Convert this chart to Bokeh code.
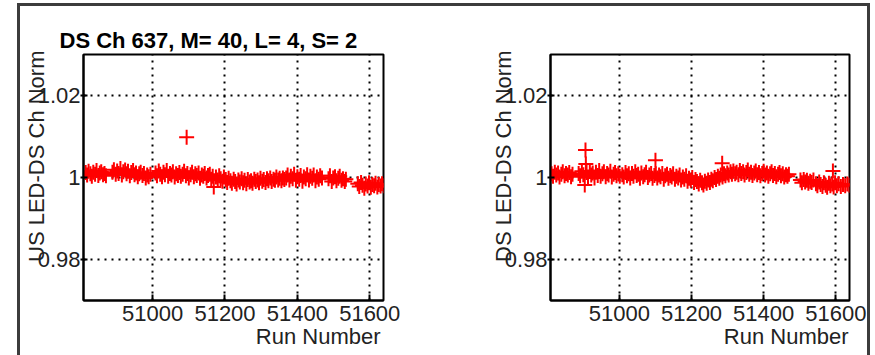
from bokeh.plotting import figure
from bokeh.layouts import row
from bokeh.models import Range1d, FixedTicker, Title
from bokeh.embed import file_html
from bokeh.resources import INLINE

# ---------------- data ----------------
title_text = "DS Ch 637, M= 40, L= 4, S= 2"
x_label = "Run Number"
y_label_left = "US LED-DS Ch Norm"
y_label_right = "DS LED-DS Ch Norm"

x_limits = (50809, 51638)
y_limits = (0.97, 1.03)
x_ticks = [51000, 51200, 51400, 51600]
x_tick_labels = ["51000", "51200", "51400", "51600"]
y_ticks = [0.98, 1.0, 1.02]
y_tick_labels = ["0.98", "1", "1.02"]

left_runs = [
    50815, 50819, 50823, 50828, 50832, 50836, 50841, 50845, 50850, 50854,
    50858, 50863, 50867, 50871, 50889, 50893, 50898, 50902, 50906, 50911,
    50915, 50919, 50924, 50928, 50932, 50937, 50941, 50946, 50950, 50954,
    50959, 50963, 50967, 50972, 50976, 50981, 50985, 50989, 50994, 51008,
    51012, 51017, 51021, 51026, 51030, 51034, 51039, 51043, 51048, 51052,
    51056, 51061, 51065, 51070, 51074, 51078, 51083, 51087, 51092, 51094,
    51096, 51100, 51105, 51109, 51114, 51118, 51122, 51127, 51131, 51136,
    51140, 51144, 51149, 51153, 51158, 51162, 51166, 51169, 51175, 51180,
    51184, 51188, 51193, 51197, 51202, 51206, 51210, 51215, 51219, 51224,
    51228, 51232, 51237, 51241, 51246, 51250, 51254, 51259, 51263, 51268,
    51272, 51276, 51281, 51285, 51290, 51294, 51298, 51303, 51307, 51312,
    51316, 51320, 51325, 51329, 51334, 51338, 51342, 51347, 51351, 51356,
    51360, 51364, 51369, 51373, 51378, 51382, 51387, 51391, 51396, 51400,
    51405, 51409, 51414, 51418, 51423, 51427, 51432, 51436, 51441, 51445,
    51450, 51454, 51459, 51463, 51468, 51486, 51490, 51495, 51499, 51504,
    51508, 51513, 51517, 51522, 51526, 51531, 51534, 51567, 51571, 51576,
    51580, 51585, 51589, 51594, 51598, 51603, 51607, 51612, 51616, 51621,
    51625, 51630, 51634, 51639,
]
left_vals = [
    1.0012, 1.0006, 1.0015, 1.0009, 1.0003, 1.0013, 1.0008, 1.0017, 1.0005, 1.0011,
    1.0014, 1.0007, 1.0010, 1.0004, 1.0013, 1.0019, 1.0008, 1.0016, 1.0010, 1.0022,
    1.0006, 1.0014, 1.0018, 1.0009, 1.0015, 1.0004, 1.0012, 1.0017, 1.0007, 1.0011,
    1.0002, 1.0009, 1.0013, 1.0005, 1.0010, 0.9999, 1.0006, 1.0002, 1.0008, 1.0011,
    1.0004, 1.0016, 1.0008, 1.0002, 1.0013, 1.0007, 1.0017, 1.0003, 1.0010, 1.0006,
    1.0014, 1.0001, 1.0009, 1.0005, 1.0012, 1.0003, 1.0008, 1.0015, 1.0004, 1.0098,
    1.0010, 0.9999, 1.0007, 1.0013, 1.0002, 1.0009, 1.0005, 1.0011, 0.9998, 1.0006,
    1.0003, 1.0010, 0.9999, 1.0005, 1.0008, 0.9996, 1.0003, 0.9977, 1.0001, 0.9994,
    1.0004, 0.9997, 0.9991, 1.0001, 0.9995, 0.9988, 0.9998, 0.9992, 0.9986, 0.9996,
    0.9990, 0.9984, 0.9994, 0.9989, 0.9997, 0.9987, 0.9993, 0.9985, 0.9995, 0.9989,
    0.9992, 0.9986, 0.9996, 0.9990, 0.9994, 0.9987, 0.9998, 0.9991, 0.9995, 0.9988,
    0.9997, 0.9992, 0.9999, 0.9990, 0.9996, 0.9993, 1.0001, 0.9994, 0.9998, 0.9992,
    0.9999, 0.9995, 0.9999, 1.0006, 0.9994, 1.0003, 0.9997, 1.0008, 0.9993, 1.0002,
    0.9996, 1.0005, 0.9991, 1.0001, 0.9997, 1.0007, 0.9994, 1.0003, 0.9998, 1.0006,
    0.9992, 1.0001, 0.9996, 1.0004, 0.9999, 0.9997, 1.0004, 0.9990, 0.9999, 1.0002,
    0.9992, 0.9998, 1.0003, 0.9993, 0.9997, 0.9990, 0.9996, 0.9985, 0.9978, 0.9988,
    0.9981, 0.9974, 0.9984, 0.9979, 0.9987, 0.9976, 0.9983, 0.9980, 0.9986, 0.9977,
    0.9983, 0.9979, 0.9985, 0.9980,
]

right_runs = [
    50812, 50816, 50821, 50825, 50830, 50834, 50839, 50843, 50848, 50852,
    50857, 50861, 50866, 50870, 50887, 50891, 50896, 50900, 50904, 50906,
    50907, 50909, 50913, 50918, 50922, 50926, 50931, 50935, 50940, 50944,
    50948, 50953, 50957, 50962, 50966, 50970, 50975, 50979, 50984, 50988,
    50992, 50997, 51001, 51008, 51012, 51017, 51021, 51026, 51030, 51035,
    51039, 51044, 51048, 51052, 51057, 51061, 51066, 51070, 51074, 51079,
    51083, 51088, 51092, 51097, 51100, 51101, 51105, 51110, 51114, 51119,
    51123, 51127, 51132, 51136, 51141, 51145, 51149, 51154, 51158, 51163,
    51167, 51171, 51176, 51180, 51185, 51189, 51193, 51198, 51202, 51207,
    51211, 51215, 51220, 51224, 51229, 51233, 51237, 51242, 51246, 51251,
    51255, 51259, 51264, 51268, 51273, 51277, 51281, 51285, 51286, 51290,
    51294, 51299, 51303, 51308, 51312, 51316, 51321, 51325, 51330, 51334,
    51338, 51343, 51347, 51352, 51356, 51360, 51365, 51369, 51374, 51378,
    51382, 51387, 51391, 51396, 51400, 51404, 51409, 51413, 51418, 51422,
    51426, 51431, 51435, 51440, 51444, 51448, 51453, 51457, 51462, 51466,
    51470, 51502, 51506, 51511, 51515, 51520, 51524, 51529, 51533, 51538,
    51545, 51549, 51554, 51558, 51563, 51567, 51572, 51576, 51581, 51585,
    51590, 51592, 51594, 51598, 51603, 51608, 51614, 51620, 51626, 51632,
    51638,
]
right_vals = [
    1.0009, 1.0003, 1.0013, 1.0006, 1.0011, 1.0001, 1.0008, 1.0014, 1.0004, 1.0010,
    1.0006, 1.0012, 1.0002, 1.0008, 1.0010, 1.0004, 1.0015, 1.0007, 0.9982, 1.0067,
    1.0033, 1.0012, 1.0001, 1.0016, 1.0006, 1.0011, 0.9999, 1.0013, 1.0005, 1.0017,
    1.0003, 1.0009, 1.0014, 1.0002, 1.0010, 1.0006, 1.0015, 1.0001, 1.0008, 1.0012,
    1.0004, 1.0009, 1.0003, 1.0007, 1.0001, 1.0012, 1.0004, 1.0009, 0.9999, 1.0010,
    1.0003, 1.0014, 1.0005, 1.0008, 0.9998, 1.0011, 1.0002, 1.0007, 1.0013, 1.0000,
    1.0006, 1.0010, 0.9998, 1.0005, 1.0042, 1.0009, 0.9999, 1.0006, 1.0002, 1.0010,
    0.9996, 1.0004, 1.0008, 0.9998, 1.0005, 1.0001, 1.0009, 0.9996, 1.0003, 0.9999,
    1.0006, 0.9994, 1.0001, 0.9996, 1.0004, 0.9991, 0.9998, 0.9993, 1.0000, 0.9988,
    0.9995, 0.9990, 0.9984, 0.9993, 0.9987, 0.9982, 0.9991, 0.9986, 0.9994, 0.9988,
    0.9996, 0.9992, 1.0000, 0.9995, 1.0003, 0.9998, 1.0006, 1.0035, 1.0001, 1.0009,
    1.0004, 1.0011, 1.0006, 1.0014, 1.0008, 1.0016, 1.0009, 1.0013, 1.0007, 1.0017,
    1.0010, 1.0014, 1.0006, 1.0012, 1.0018, 1.0008, 1.0013, 1.0005, 1.0011, 1.0016,
    1.0007, 1.0012, 1.0004, 1.0010, 1.0015, 1.0006, 1.0011, 1.0003, 1.0009, 1.0014,
    1.0005, 1.0010, 1.0002, 1.0008, 1.0012, 1.0004, 1.0009, 1.0001, 1.0007, 1.0003,
    1.0008, 0.9994, 0.9987, 0.9995, 0.9989, 0.9993, 0.9986, 0.9991, 0.9988, 0.9994,
    0.9985, 0.9980, 0.9989, 0.9983, 0.9978, 0.9987, 0.9981, 0.9976, 0.9986, 0.9980,
    0.9984, 1.0016, 0.9977, 0.9987, 0.9980, 0.9985, 0.9978, 0.9983, 0.9980, 0.9984,
    0.9981,
]

# ---------------- style ----------------
FONT = "Liberation Sans"
LABEL_SIZE = "22px"
TEXT_COLOR = "#222222"
FIG_H = 349
FRAME_H = 246
BORDER_TOP = 48


def make_panel(runs, vals, ylabel, width, b_left, frame_w, xlab_off, title=None):
    b_right = width - b_left - frame_w
    p = figure(width=width, height=FIG_H, output_backend="svg", toolbar_location=None,
               x_range=Range1d(*x_limits), y_range=Range1d(*y_limits),
               min_border_left=b_left, min_border_right=b_right,
               min_border_top=BORDER_TOP, min_border_bottom=FIG_H - BORDER_TOP - FRAME_H,
               title=title)
    p.background_fill_color = "white"
    p.border_fill_color = "white"
    p.outline_line_color = "black"
    p.outline_line_width = 2
    p.outline_line_alpha = 1.0

    if title:
        p.title.align = "left"
        p.title.offset = -24
        p.title.standoff = 3
        p.title.text_font = FONT
        p.title.text_font_size = "22px"
        p.title.text_font_style = "bold"
        p.title.text_color = "black"

    xa = p.xaxis[0]
    ya = p.yaxis[0]
    xa.ticker = FixedTicker(ticks=x_ticks)
    xa.major_label_overrides = dict(zip(x_ticks, x_tick_labels))
    ya.ticker = FixedTicker(ticks=y_ticks)
    ya.major_label_overrides = dict(zip(y_ticks, y_tick_labels))

    for ax in (xa, ya):
        ax.axis_line_width = 2
        ax.axis_line_color = "black"
        ax.major_tick_line_width = 2
        ax.major_tick_line_color = "black"
        ax.minor_tick_line_color = None
        ax.major_label_text_font = FONT
        ax.major_label_text_font_size = LABEL_SIZE
        ax.major_label_text_color = TEXT_COLOR

    xa.major_tick_in = 6
    xa.major_tick_out = 0
    xa.major_label_standoff = 5
    ya.major_tick_in = 4
    ya.major_tick_out = 3
    ya.major_label_standoff = 0

    for g in (p.xgrid[0], p.ygrid[0]):
        g.grid_line_color = "black"
        g.grid_line_width = 2
        g.grid_line_dash = "2 5"

    p.scatter(runs, vals, marker="cross", size=15, line_color="#ff0000", line_width=2)

    # axis titles (ROOT style: right / top aligned)
    xt = Title(text=x_label, align="right", offset=xlab_off, standoff=0,
               vertical_align="top", text_font=FONT, text_font_size=LABEL_SIZE,
               text_font_style="normal", text_color=TEXT_COLOR)
    p.add_layout(xt, "below")
    yt = Title(text=ylabel, align="right", offset=-4, standoff=-28,
               vertical_align="bottom", text_font=FONT, text_font_size=LABEL_SIZE,
               text_font_style="normal", text_color=TEXT_COLOR)
    p.add_layout(yt, "left")
    return p


p1 = make_panel(left_runs, left_vals, y_label_left, 440, 63, 300, 3, title=title_text)
p2 = make_panel(right_runs, right_vals, y_label_right, 407, 90, 299, 1)

layout = row(p1, p2, styles={
    "border-top": "3px solid #3c3c3c",
    "border-left": "3px solid #3c3c3c",
    "border-right": "3px solid #3c3c3c",
    "margin-left": "17px",
    "margin-top": "3px",
    "background-color": "white",
})

open("out.html", "w").write(file_html(layout, INLINE))
